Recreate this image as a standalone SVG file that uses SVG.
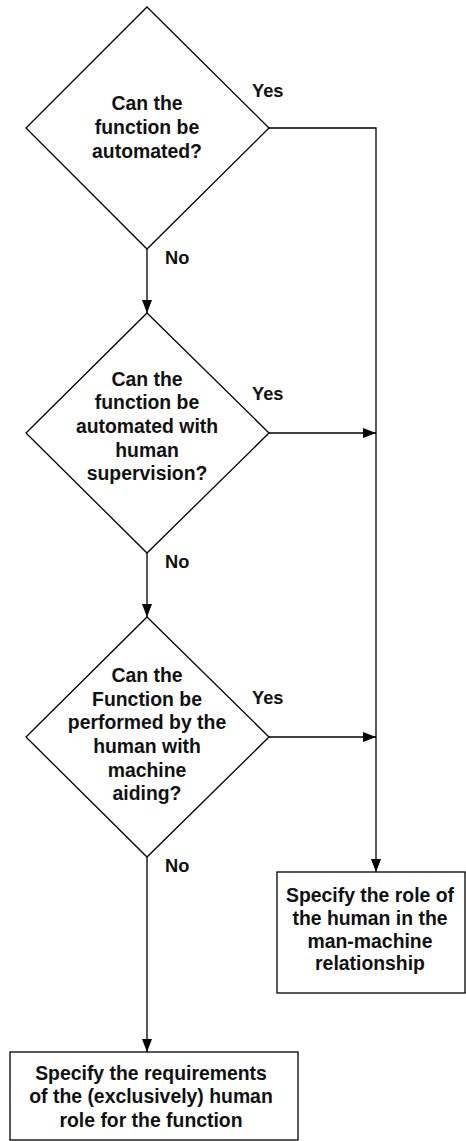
<svg xmlns="http://www.w3.org/2000/svg" width="466" height="1141" viewBox="0 0 466 1141">
<defs>
<marker id="arr" markerWidth="14" markerHeight="10" refX="13" refY="5" orient="auto" markerUnits="userSpaceOnUse">
<path d="M0,0 L13,5 L0,10 Z" fill="#000"/>
</marker>
<style>
.shape{fill:#fff;stroke:#000;stroke-width:1.3}
.line{fill:none;stroke:#000;stroke-width:1.3}
text{font-family:"Liberation Sans",Arial,sans-serif;font-weight:bold;font-size:19.4px;fill:#111}
.c{text-anchor:middle}
.lbl{font-size:18.3px}
</style>
</defs>
<rect width="466" height="1141" fill="#fff"/>
<g id="connectors">
<path class="line" d="M147,249 L147,313" marker-end="url(#arr)"/>
<path class="line" d="M147,553 L147,617" marker-end="url(#arr)"/>
<path class="line" d="M147,857 L147,1052" marker-end="url(#arr)"/>
<path class="line" d="M269,128 L376,128 L376,872" marker-end="url(#arr)"/>
<path class="line" d="M269,433 L376,433" marker-end="url(#arr)"/>
<path class="line" d="M269,737 L376,737" marker-end="url(#arr)"/>
<text class="lbl" x="252" y="97">Yes</text>
<text class="lbl" x="252" y="400">Yes</text>
<text class="lbl" x="252" y="704">Yes</text>
<text class="lbl" x="165" y="264">No</text>
<text class="lbl" x="165" y="568">No</text>
<text class="lbl" x="165" y="872">No</text>
</g>
<g id="d1">
<polygon class="shape" points="147,7 269,128 147,249 26,128"/>
<text class="c" x="147" y="110">Can the</text>
<text class="c" x="147" y="134">function be</text>
<text class="c" x="147" y="158">automated?</text>
</g>
<g id="d2">
<polygon class="shape" points="147,313 269,433 147,553 26,433"/>
<text class="c" x="147" y="386">Can the</text>
<text class="c" x="147" y="409">function be</text>
<text class="c" x="147" y="433">automated with</text>
<text class="c" x="147" y="457">human</text>
<text class="c" x="147" y="480">supervision?</text>
</g>
<g id="d3">
<polygon class="shape" points="147,617 269,737 147,857 26,737"/>
<text class="c" x="147" y="682">Can the</text>
<text class="c" x="147" y="706">Function be</text>
<text class="c" x="147" y="729">performed by the</text>
<text class="c" x="147" y="753">human with</text>
<text class="c" x="147" y="777">machine</text>
<text class="c" x="147" y="800">aiding?</text>
</g>
<g id="b1">
<rect class="shape" x="277" y="872" width="188" height="121"/>
<text class="c" x="370" y="902">Specify the role of</text>
<text class="c" x="370" y="925">the human in the</text>
<text class="c" x="370" y="948">man-machine</text>
<text class="c" x="370" y="970">relationship</text>
</g>
<g id="b2">
<rect class="shape" x="10" y="1052" width="288" height="88"/>
<text class="c" x="151" y="1080">Specify the requirements</text>
<text class="c" x="151" y="1103">of the (exclusively) human</text>
<text class="c" x="151" y="1127">role for the function</text>
</g>
</svg>
